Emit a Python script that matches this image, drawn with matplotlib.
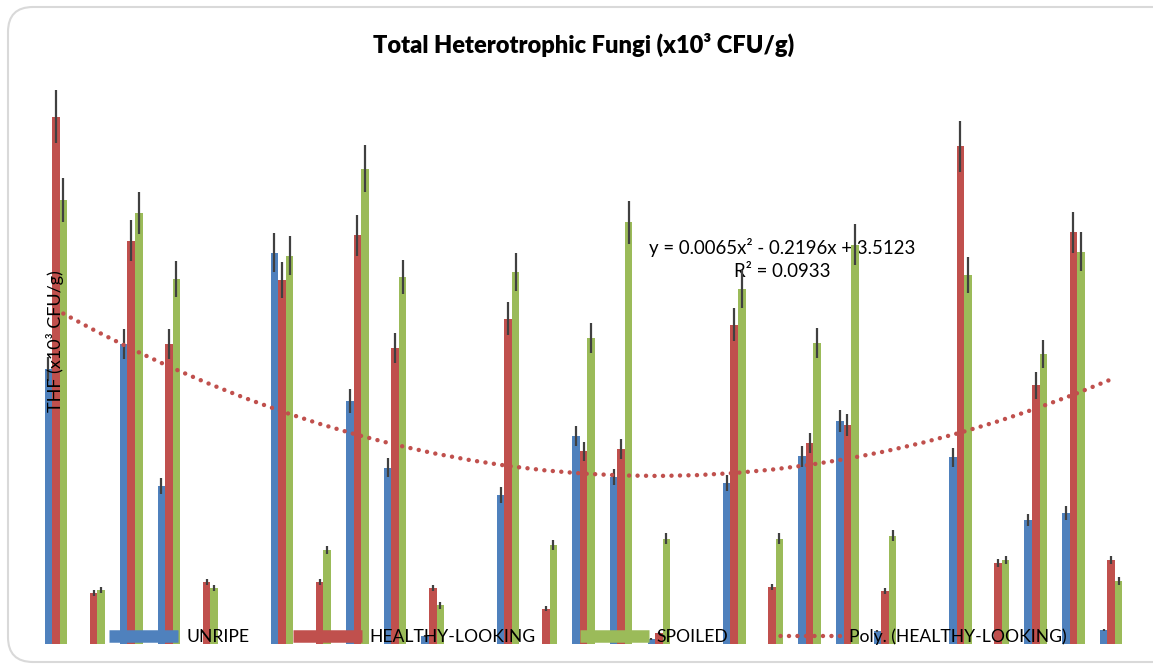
import numpy as np
import matplotlib
matplotlib.use('Agg')
import matplotlib.pyplot as plt
from matplotlib.lines import Line2D
from matplotlib.patches import FancyBboxPatch

plt.rcParams['font.family'] = ['Lato', 'DejaVu Sans']

# sample positions 1..29 (gaps at 6, 12, 18, 24 separate the five blocks)
samples = np.arange(1, 30)

unripe = [2.71, 0, 2.96, 1.56, 0, 0, 3.86, 0, 2.40, 1.74, 0.08, 0, 1.47, 0, 2.05,
          1.65, 0.05, 0, 1.59, 0, 1.85, 2.20, 0.13, 0, 1.84, 0, 1.22, 1.29, 0.14]
unripe_err = [0.12, 0, 0.15, 0.08, 0, 0, 0.19, 0, 0.12, 0.09, 0.01, 0, 0.08, 0, 0.10,
              0.08, 0.01, 0, 0.08, 0, 0.10, 0.11, 0.01, 0, 0.09, 0, 0.06, 0.07, 0.01]
healthy = [5.20, 0.50, 3.98, 2.96, 0.61, 0, 3.59, 0.61, 4.03, 2.92, 0.55, 0, 3.21, 0.35, 1.90,
           1.92, 0.11, 0, 3.15, 0.56, 1.98, 2.16, 0.52, 0, 4.91, 0.80, 2.55, 4.06, 0.83]
healthy_err = [0.26, 0.03, 0.20, 0.15, 0.03, 0, 0.18, 0.03, 0.20, 0.15, 0.03, 0, 0.16, 0.02, 0.09,
               0.10, 0.01, 0, 0.16, 0.03, 0.10, 0.11, 0.03, 0, 0.25, 0.04, 0.13, 0.20, 0.04]
spoiled = [4.38, 0.53, 4.25, 3.60, 0.55, 0, 3.83, 0.93, 4.69, 3.62, 0.38, 0, 3.67, 0.98, 3.02,
           4.16, 1.04, 0, 3.50, 1.04, 2.97, 3.94, 1.07, 0, 3.64, 0.83, 2.86, 3.87, 0.62]
spoiled_err = [0.22, 0.03, 0.21, 0.18, 0.03, 0, 0.19, 0.04, 0.23, 0.17, 0.03, 0, 0.19, 0.05, 0.15,
               0.21, 0.05, 0, 0.19, 0.05, 0.15, 0.20, 0.05, 0, 0.18, 0.04, 0.14, 0.19, 0.04]

# Excel polynomial trendline of HEALTHY-LOOKING (a, b, c) and its R²
poly_coef = [0.0065, -0.2196, 3.5123]
r_squared = 0.0933

c_blue, c_red, c_green = '#4F81BD', '#C0504D', '#9BBB59'
dots = (0, (0.01, 1.9))

fig = plt.figure(figsize=(11.53, 6.70), dpi=100)
ax = fig.add_axes([37 / 1153, 26 / 670, 1093 / 1153, 588 / 670])

x = samples - 1
w = 0.2
ekw = dict(ecolor='#404040', elinewidth=1.6, capsize=0)
ax.bar(x - w, unripe, w, color=c_blue, yerr=unripe_err, error_kw=ekw, zorder=2)
ax.bar(x, healthy, w, color=c_red, yerr=healthy_err, error_kw=ekw, zorder=2)
ax.bar(x + w, spoiled, w, color=c_green, yerr=spoiled_err, error_kw=ekw, zorder=2)

trend = np.polyval(poly_coef, samples)
ax.plot(x, trend, color=c_red, lw=3.2, linestyle=dots, dash_capstyle='round', zorder=3)

eq = 'y = %.4fx² - %.4fx + %.4f\nR² = %.4f' % (poly_coef[0], -poly_coef[1], poly_coef[2], r_squared)
ax.text(782 / 1153, 1 - 259 / 670, eq, transform=fig.transFigure, ha='center', va='center',
        multialignment='center', fontsize=13.4, linespacing=1.4, zorder=1)

ax.set_xlim(-0.5, 28.5)
ax.set_ylim(0, 5.8)
ax.axis('off')

handles = [Line2D([], [], color=c_blue, lw=9, solid_capstyle='butt'),
           Line2D([], [], color=c_red, lw=9, solid_capstyle='butt'),
           Line2D([], [], color=c_green, lw=9, solid_capstyle='butt'),
           Line2D([], [], color=c_red, lw=3.2, linestyle=dots, dash_capstyle='round')]
labels = ['UNRIPE', 'HEALTHY-LOOKING', 'SPOILED', 'Poly. (HEALTHY-LOOKING)']
leg = ax.legend(handles, labels, ncol=4, frameon=False, fontsize=12.6,
                loc='center left', bbox_to_anchor=(109 / 1153, 1 - 637 / 670),
                bbox_transform=fig.transFigure, borderpad=0, borderaxespad=0,
                handlelength=3.95, handletextpad=0.45, columnspacing=2.5)
leg.set_zorder(5)

fig.text(584 / 1153, 1 - 45 / 670, 'Total Heterotrophic Fungi (x10³ CFU/g)',
         ha='center', va='center', fontsize=17, fontweight='heavy')
fig.text(55 / 1153, 1 - 341 / 670, 'THF (x10³ CFU/g)', rotation=90,
         ha='center', va='center', fontsize=13)

border = FancyBboxPatch((8, 8), 1180, 655, boxstyle='round,pad=0,rounding_size=25',
                        transform=None, facecolor='none', edgecolor='#d9d9d9', lw=1.5)
fig.patches.append(border)

fig.savefig('out.png', dpi=100, facecolor='white')
